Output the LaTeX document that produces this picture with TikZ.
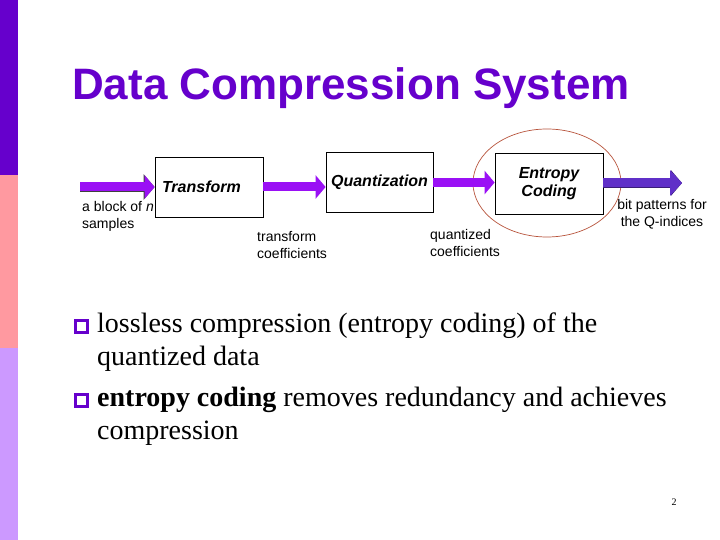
\documentclass[tikz,border=0pt]{standalone}
\usepackage{fontspec}
\setmainfont{Liberation Serif}
\setsansfont{Liberation Sans}
\usetikzlibrary{arrows.meta,calc}

\definecolor{deeppurple}{HTML}{6600CC}
\definecolor{barpink}{HTML}{FF99A0}
\definecolor{barlilac}{HTML}{CC99FF}
\definecolor{flowviolet}{HTML}{9A10F5}
\definecolor{flowdark}{HTML}{6030C8}
\definecolor{ringred}{HTML}{B8543C}

\begin{document}
\begin{tikzpicture}[x=1pt, y=-1pt,
    box/.style={draw, line width=0.8pt, minimum height=60pt, inner ysep=0pt,
      font=\sffamily\bfseries\itshape\fontsize{16}{18}\selectfont},
    flow/.style={line width=9pt, draw=flowviolet,
      -{Triangle[length=10pt, width=23pt, color=flowviolet]}},
    rim/.style={preaction={draw=#1, line width=10.5pt,
      -{Triangle[length=11pt, width=25pt, color=#1]}}},
    lbl/.style={inner sep=0pt, font=\sffamily\fontsize{14}{17}\selectfont},
    item/.style={inner sep=0pt, font=\fontsize{28}{33}\selectfont},
    tick/.style={draw=deeppurple, fill=white, line width=3pt, minimum size=12pt, inner sep=0pt}]
  \useasboundingbox (0,0) rectangle (720,540);
  \fill[white] (0,0) rectangle (720,540);
  \foreach \c/\a/\b in {deeppurple/0/175, barpink/175/348, barlilac/348/540} {
    \fill[\c] (0,\a) rectangle (18,\b);
    }
  \node[anchor=base west, inner sep=0pt, text=deeppurple,
    font=\sffamily\bfseries\fontsize{44}{50}\selectfont] (title) at (72,100) {Data Compression System};

  \node[box, minimum width=108pt, inner xsep=7pt, text width=94pt, align=left] (tr) at (209,187) {Transform};
  \node[box, minimum width=107pt, inner xsep=5pt, text width=97pt, align=right] (qz) at (379.5,182.5) {Quantization};
  \node[box, minimum width=108pt, minimum height=61pt, align=center] (ec) at (549,183.5) {Entropy\\Coding};
  \draw[ringred, line width=0.7pt] (547,183) ellipse (74 and 54);

  \coordinate (src) at (80,187);
  \coordinate (sink) at (682,183);
  \draw[flow, rim=black!75] (src) -- (tr.west);
  \draw[flow] (tr.east) -- (tr.east -| qz.west);
  \draw[flow] (qz.east) -- (qz.east -| ec.west);
  \draw[flow, draw=flowdark, rim=flowdark!60!black,
    -{Triangle[length=12pt, width=25pt, color=flowdark]}] (ec.east |- sink) -- (sink);

  \node[lbl, anchor=north west, align=left] (blk) at (82,201) {a block of \emph{n}\\samples};
  \node[lbl, anchor=north west, align=left] (tco) at (257,231) {transform\\coefficients};
  \node[lbl, anchor=north west, align=left] (qco) at (430,229) {quantized\\coefficients};
  \node[lbl, anchor=north, align=center] (bits) at (662,199) {bit patterns for\\the Q-indices};

  \node[tick] (b1) at (81,326) {};
  \node[tick] (b2) at (81,400) {};
  \node[item, anchor=base west] (t1) at (97,332) {lossless compression (entropy coding) of the};
  \node[item, anchor=base west] (t2) at (97,365) {quantized data};
  \node[item, anchor=base west] (t3) at (97,406) {\textbf{entropy coding} removes redundancy and achieves};
  \node[item, anchor=base west] (t4) at (97,439) {compression};

  \node[inner sep=0pt, font=\fontsize{10}{12}\selectfont] (pg) at (674,502) {2};
\end{tikzpicture}
\end{document}
